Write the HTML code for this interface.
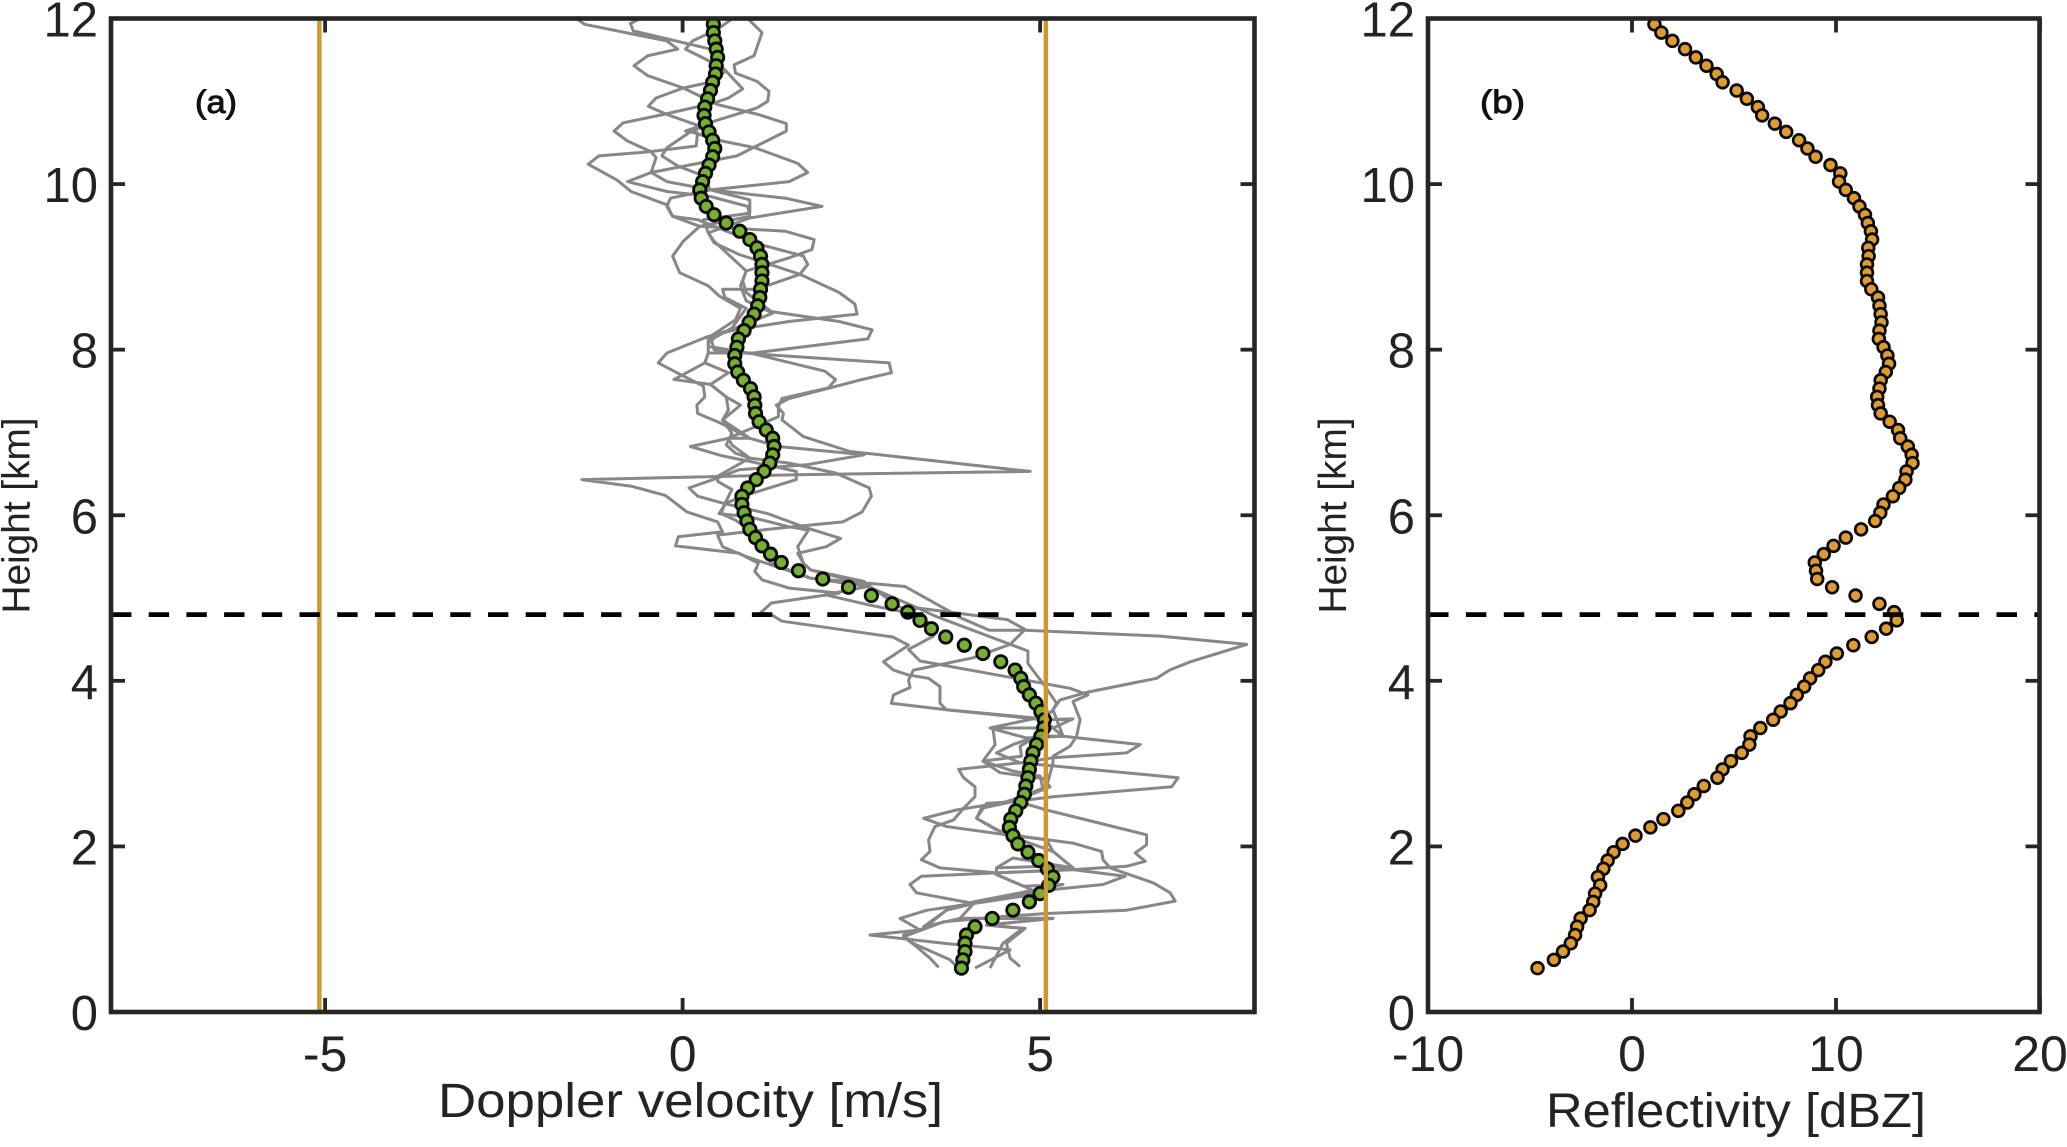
<!DOCTYPE html>
<html lang="en">
<head>
<meta charset="utf-8">
<title>Doppler velocity and reflectivity profiles</title>
<style>
html,body{margin:0;padding:0;background:#fff;width:2067px;height:1147px;overflow:hidden}
svg{display:block}
text{font-family:"Liberation Sans",sans-serif;fill:#232323}
</style>
</head>
<body>
<svg id="figure" xmlns="http://www.w3.org/2000/svg" width="2067" height="1147" viewBox="0 0 2067 1147"></svg>
<script>
const profileHeights = [0.53,0.63,0.73,0.83,0.93,1.03,1.13,1.23,1.33,1.43,1.53,1.63,1.73,1.83,1.93,2.03,2.13,2.23,2.33,2.43,2.53,2.63,2.73,2.83,2.93,3.03,3.13,3.23,3.33,3.43,3.53,3.63,3.73,3.83,3.93,4.03,4.13,4.23,4.33,4.43,4.53,4.63,4.73,4.83,4.93,5.03,5.13,5.23,5.33,5.43,5.53,5.63,5.73,5.83,5.93,6.03,6.13,6.23,6.33,6.43,6.53,6.63,6.73,6.83,6.93,7.03,7.13,7.23,7.33,7.43,7.53,7.63,7.73,7.83,7.93,8.03,8.13,8.23,8.33,8.43,8.53,8.63,8.73,8.83,8.93,9.03,9.13,9.23,9.33,9.43,9.53,9.63,9.73,9.83,9.93,10.03,10.13,10.23,10.33,10.43,10.53,10.63,10.73,10.83,10.93,11.03,11.13,11.23,11.33,11.43,11.53,11.63,11.73,11.83,11.93];
const meanVelocity = [3.90,3.92,3.95,3.95,3.97,4.09,4.33,4.62,4.85,5.00,5.12,5.18,5.10,4.98,4.83,4.69,4.62,4.57,4.59,4.66,4.73,4.78,4.80,4.83,4.85,4.87,4.90,4.95,5.01,5.05,5.06,5.01,4.94,4.85,4.77,4.73,4.65,4.45,4.20,3.94,3.68,3.48,3.32,3.15,2.93,2.64,2.32,1.96,1.62,1.38,1.23,1.11,1.02,0.94,0.90,0.86,0.83,0.83,0.91,1.03,1.14,1.22,1.26,1.28,1.26,1.17,1.07,1.02,1.01,1.00,0.95,0.85,0.77,0.73,0.73,0.76,0.78,0.86,0.93,1.00,1.05,1.08,1.09,1.11,1.11,1.11,1.09,1.04,0.94,0.80,0.61,0.44,0.33,0.26,0.24,0.28,0.32,0.37,0.42,0.45,0.42,0.37,0.32,0.30,0.31,0.35,0.39,0.42,0.46,0.47,0.49,0.47,0.45,0.43,0.43];
const meanReflectivity = [-4.63,-3.83,-3.38,-3.00,-2.79,-2.69,-2.52,-2.08,-1.90,-1.81,-1.56,-1.67,-1.40,-1.19,-0.90,-0.46,0.17,0.90,1.54,2.27,2.71,3.06,3.52,4.19,4.44,4.85,5.38,5.75,5.81,6.29,6.92,7.29,7.77,8.08,8.44,8.73,9.13,9.48,10.04,10.85,11.75,12.46,12.98,12.85,12.13,10.96,9.81,9.08,9.02,8.96,9.40,9.88,10.48,11.23,11.92,12.17,12.33,12.79,13.10,13.40,13.46,13.75,13.71,13.52,13.15,13.04,12.63,12.19,12.06,12.02,12.13,12.19,12.44,12.60,12.52,12.33,12.10,12.13,12.23,12.19,12.13,12.06,11.73,11.52,11.52,11.52,11.60,11.58,11.77,11.71,11.56,11.42,11.15,10.88,10.48,10.15,10.21,9.73,9.00,8.60,8.19,7.56,7.00,6.38,6.17,5.63,5.13,4.44,4.15,3.65,3.13,2.60,1.98,1.44,1.10];

const trace1Velocity = [-1.49,-1.37,-0.22,-0.07,-0.49,-0.68,-0.49,0.01,0.49,1.06,1.45,1.45,0.76,-0.44,-0.77,-0.22,0.39,0.91,0.94,0.24,0.01,-0.14,-0.04,0.36,0.51,0.81,0.74,0.39,0.36,-0.22,-0.34,-0.12,0.29,0.31,0.20,0.21,0.54,0.94,1.34,2.54,1.74,0.79,0.49,0.09,0.21,0.59,1.19,1.69,2.21,2.01,1.61,1.69,1.79,2.54,2.59,1.99,2.59,3.16,3.29,4.54,4.79,4.58,4.07,3.23,3.16,3.18,2.95,2.92,3.69,5.04,5.46,5.18,4.39,4.34,4.37,4.20,4.44,5.04,5.14,4.62,4.25,4.11,4.39,4.76,5.46,5.86,5.88,5.98,6.58,6.82,6.89,6.21,5.09,4.44,3.65,3.09,3.27,3.46,3.58];
const trace1Height = [12.0,11.93,11.73,11.63,11.55,11.43,11.31,11.16,10.96,10.84,10.73,10.64,10.34,10.14,10.03,9.91,9.85,9.73,9.61,9.49,9.31,9.13,8.93,8.77,8.65,8.50,8.36,8.16,8.16,7.96,7.84,7.74,7.56,7.43,7.33,7.23,7.11,6.93,6.83,6.73,6.61,6.55,6.45,6.33,6.23,6.14,6.02,5.86,5.72,5.62,5.54,5.42,5.34,5.20,5.14,5.04,4.92,4.82,4.88,4.74,4.62,4.44,4.28,4.13,4.01,3.92,3.83,3.73,3.65,3.53,3.54,3.43,3.43,3.43,3.23,3.03,2.89,2.82,2.72,2.54,2.52,2.34,2.20,2.12,2.04,1.94,1.84,1.74,1.56,1.44,1.34,1.23,1.19,1.15,1.09,0.91,0.79,0.65,0.54];

const trace2Velocity = [-0.59,-0.73,-0.69,0.39,0.44,0.59,0.84,0.64,0.44,-0.27,-0.83,-0.96,-0.77,-0.44,-0.37,-0.44,-0.22,0.39,1.44,1.95,0.94,0.36,0.44,0.79,1.29,1.64,2.19,2.41,2.44,1.49,0.74,0.36,0.36,0.99,2.89,2.92,2.51,1.49,1.31,1.41,1.39,1.69,2.34,4.86,1.59,-1.41,-0.71,-0.24,0.06,0.49,0.56,-0.06,-0.10,0.79,1.06,1.01,1.11,1.49,2.19,1.24,1.09,1.24,1.39,2.29,2.94,3.16,2.81,2.95,3.16,3.44,3.60,3.60,3.69,4.95,4.30,4.81,5.32,6.40,6.21,5.18,4.72,3.86,3.93,4.09,4.09,3.93,3.79,3.53,3.44,3.46,3.34,3.60,4.39,5.46,6.19,5.88,5.18,4.07,3.42,3.04,3.32,2.62,3.65,4.58,4.09];
const trace2Height = [12.0,11.94,11.85,11.63,11.5,11.38,11.15,11.04,10.98,10.84,10.74,10.64,10.52,10.39,10.32,10.14,10.03,9.93,9.83,9.73,9.59,9.41,9.29,9.15,9.01,8.91,8.69,8.55,8.43,8.34,8.24,8.16,8.04,7.95,7.84,7.72,7.64,7.41,7.33,7.23,7.15,6.95,6.77,6.53,6.49,6.43,6.35,6.24,6.04,5.92,5.80,5.74,5.63,5.54,5.42,5.32,5.22,5.12,5.06,4.94,4.82,4.80,4.72,4.61,4.53,4.43,4.23,4.13,4.07,4.03,3.93,3.73,3.65,3.55,3.43,3.31,3.33,3.23,3.13,3.07,3.01,2.93,2.83,2.72,2.60,2.46,2.32,2.24,2.08,1.94,1.84,1.74,1.68,1.72,1.64,1.54,1.48,1.31,1.23,1.13,0.99,0.93,0.83,0.75,0.53];

const trace3Velocity = [0.70,0.49,0.14,0.04,0.39,0.59,0.44,0.01,-0.37,-0.48,-0.22,0.24,0.04,0.21,0.19,-0.47,-1.17,-1.32,-0.92,-0.72,-0.22,-0.14,0.24,1.44,1.84,1.81,1.49,0.89,0.84,0.89,1.24,2.19,2.65,2.59,0.99,0.36,0.31,-0.12,0.39,0.61,0.64,0.56,0.69,0.61,0.74,0.94,1.49,2.14,2.61,2.64,2.51,2.24,1.54,1.09,0.49,0.56,0.89,1.24,1.79,3.11,3.69,3.89,4.29,4.79,6.68,7.89,7.10,6.81,6.63,5.65,5.28,5.18,5.04,5.32,4.95,4.62,4.39,4.72,5.70,6.93,6.84,5.18,4.62,4.18,4.11,4.53,5.09,5.18,5.46,5.09,4.39,4.39,4.77,5.32,4.07,3.69,3.37,3.88,5.18,4.25,4.79,4.53,4.58,4.72];
const trace3Height = [12.0,11.87,11.73,11.63,11.48,11.36,11.24,11.16,11.04,10.94,10.84,10.70,10.64,10.62,10.46,10.39,10.34,10.24,10.05,9.91,9.75,9.61,9.49,9.43,9.33,9.21,9.11,8.95,8.83,8.69,8.46,8.34,8.24,8.13,7.96,7.96,7.84,7.64,7.58,7.43,7.27,7.15,6.99,6.85,6.75,6.69,6.63,6.51,6.33,6.23,6.04,5.92,5.86,5.82,5.76,5.62,5.50,5.40,5.24,5.14,4.86,4.76,4.61,4.61,4.54,4.44,4.23,4.13,4.03,3.86,3.77,3.65,3.53,3.33,3.33,3.23,3.13,3.01,2.93,2.83,2.72,2.60,2.54,2.46,2.34,2.14,2.08,1.94,1.74,1.76,1.74,1.66,1.52,1.54,1.33,1.23,1.03,1.13,1.13,1.05,1.01,0.83,0.65,0.55];

const trace4Velocity = [0.91,1.11,1.00,0.72,0.74,1.04,1.21,1.19,1.04,0.44,0.09,-0.22,-0.29,-0.07,0.29,0.39,-0.17,-0.22,-0.14,0.21,0.44,1.09,1.69,1.75,1.64,1.04,0.56,0.59,0.89,0.69,0.44,0.36,0.36,0.31,0.64,0.39,0.61,0.81,0.56,0.94,0.64,0.11,0.54,0.94,1.59,1.59,0.99,0.61,0.51,0.94,1.49,1.76,1.61,1.69,1.79,2.59,3.16,3.49,3.51,3.16,3.32,4.53,5.04,5.42,5.67,5.46,5.56,5.51,5.42,5.18,5.18,5.09,4.62,5.09,6.49,6.49,6.33,6.47,6.21,5.46,3.34,3.18,3.27,4.07,3.69,3.37,3.09,3.22,3.74,3.81];
const trace4Height = [12.0,11.83,11.55,11.44,11.34,11.24,11.12,11.0,10.92,10.76,10.62,10.44,10.34,10.22,10.10,9.93,9.83,9.73,9.61,9.57,9.49,9.27,9.13,9.03,8.91,8.73,8.73,8.63,8.50,8.26,8.14,8.08,7.96,7.84,7.72,7.58,7.43,7.33,7.15,6.93,6.93,6.83,6.72,6.65,6.53,6.43,6.27,6.15,6.02,5.98,5.86,5.82,5.62,5.42,5.34,5.16,4.82,4.68,4.54,4.38,4.24,4.05,3.97,3.91,3.83,3.75,3.53,3.33,3.21,3.09,3.01,2.72,2.56,2.44,2.14,2.02,1.92,1.82,1.76,1.72,1.64,1.54,1.44,1.31,1.23,1.01,0.93,0.83,0.63,0.57];

const trace5Velocity = [0.09,0.44,1.01,1.61,1.75,1.49,0.39,0.94,0.94,0.29,0.36,0.44,0.89,0.81,0.89,1.26,0.74,0.39,0.44,0.99,1.99,2.14,2.04,1.39,1.34,1.34,0.64,0.69,0.94,0.49,0.49,0.69,0.59,0.54,0.74,0.94,1.24,1.79,2.59,3.29,3.54,4.83,4.83,4.95,5.04,5.23,5.18,5.32,4.95,4.72,4.74,4.20,4.62,5.00,5.04,4.53,3.83,3.37,3.69,4.53,5.18,5.46,4.62,4.39,4.39,4.77,5.00,4.07,3.88,5.18,4.25,4.76,4.48,4.30];
const trace5Height = [10.64,10.54,10.44,10.25,10.14,10.03,9.93,9.81,9.65,9.57,9.41,9.31,8.95,8.77,8.59,8.44,8.26,8.16,8.0,7.95,7.74,7.64,7.54,7.41,7.31,7.19,6.93,6.85,6.69,6.47,6.41,6.31,6.14,6.02,5.94,5.82,5.42,5.24,5.14,4.88,4.78,4.36,4.21,4.07,3.97,3.73,3.65,3.33,3.33,3.21,3.09,3.03,2.91,2.85,2.69,2.54,2.44,2.34,2.24,2.14,1.94,1.74,1.86,1.74,1.66,1.52,1.43,1.31,1.13,1.13,1.05,1.01,0.83,0.53];

const heightTicks = [0,2,4,6,8,10,12];
const velocityTicks = [-5,0,5];
const reflectivityTicks = [-10,0,10,20];
const meltingLayerHeight = [4.8];
const nyquistVelocity = [-5.08,5.08];

const NS = 'http://www.w3.org/2000/svg';
const svg = document.getElementById('figure');
const AX_BOTTOM = 1012, AX_TOP = 18.5;
const A_LEFT = 111, A_RIGHT = 1254.5, B_LEFT = 1428, B_RIGHT = 2039.5;
function yHeight(h){ return AX_BOTTOM - h * (AX_BOTTOM - AX_TOP) / 12; }
function xVelocity(v){ return 682.6 + v * 71.5; }
function xReflectivity(d){ return 1632 + d * 20.4; }
function make(tag, attrs, parent){
  const el = document.createElementNS(NS, tag);
  for (const k in attrs) el.setAttribute(k, attrs[k]);
  (parent || svg).appendChild(el);
  return el;
}
function group(parent){ return make('g', {}, parent); }

const defs = make('defs', {});
const clip = make('clipPath', {id:'clip-a'}, defs);
make('rect', {x:A_LEFT, y:AX_TOP, width:A_RIGHT-A_LEFT, height:AX_BOTTOM-AX_TOP}, clip);

/* grey individual profiles */
const panelA = group();


const traces = [[trace1Velocity,trace1Height],[trace2Velocity,trace2Height],[trace3Velocity,trace3Height],[trace4Velocity,trace4Height],[trace5Velocity,trace5Height]];
traces.forEach(function(t){
  const pts = t[0].map(function(v,i){ return xVelocity(v).toFixed(1)+','+yHeight(t[1][i]).toFixed(1); }).join(' ');
  const line = make('polyline', {points:pts, fill:'none', stroke:'#878787', 'stroke-width':3, 'stroke-linejoin':'round', 'clip-path':'url(#clip-a)'}, panelA);
  
  
});

/* mean velocity markers: drawn top to bottom so lower markers overlap */
for (let i = meanVelocity.length - 1; i >= 0; i--) {
  const c = make('circle', {cx:xVelocity(meanVelocity[i]), cy:yHeight(profileHeights[i]), r:6.2, fill:'#76b033', stroke:'#0a0a0a', 'stroke-width':2.8}, panelA);
  
  
}

/* nyquist lines */
nyquistVelocity.forEach(function(v){
  const l = make('line', {x1:xVelocity(v), x2:xVelocity(v), y1:AX_TOP, y2:AX_BOTTOM, stroke:'#d3952e', 'stroke-width':4.4}, panelA);
  
  
});

/* melting layer dashes */
const dashA = make('line', {x1:A_LEFT, x2:A_RIGHT, y1:yHeight(meltingLayerHeight[0]), y2:yHeight(meltingLayerHeight[0]), stroke:'#000', 'stroke-width':4.8, 'stroke-dasharray':'20.4 17.3'}, panelA);



/* reflectivity panel */
const panelB = group();


for (let i = meanReflectivity.length - 1; i >= 0; i--) {
  const c = make('circle', {cx:xReflectivity(meanReflectivity[i]), cy:yHeight(profileHeights[i]), r:5.9, fill:'#dd9b31', stroke:'#0a0a0a', 'stroke-width':2.7}, panelB);
  
  
}
const dashB = make('line', {x1:B_LEFT, x2:B_RIGHT, y1:yHeight(meltingLayerHeight[0]), y2:yHeight(meltingLayerHeight[0]), stroke:'#000', 'stroke-width':4.8, 'stroke-dasharray':'20.5 17.4'}, panelB);



/* axes */
function drawAxes(parent, left, right, xTicks, xScale, prefix){
  const frame = make('rect', {x:left, y:AX_TOP, width:right-left, height:AX_BOTTOM-AX_TOP, fill:'none', stroke:'#262626', 'stroke-width':4.6}, parent);
  
  
  heightTicks.forEach(function(h){
    const y = yHeight(h);
    const t1 = make('line', {x1:left, x2:left+14, y1:y, y2:y, stroke:'#262626', 'stroke-width':3.8}, parent);
    
    
    const t2 = make('line', {x1:right-14, x2:right, y1:y, y2:y, stroke:'#262626', 'stroke-width':3.8}, parent);
    
    
    const lab = make('text', {x:left-13, y:y+18, 'font-size':49, 'text-anchor':'end'}, parent);
    lab.textContent = String(h);
    
    
  });
  xTicks.forEach(function(v){
    const x = xScale(v);
    const t1 = make('line', {x1:x, x2:x, y1:AX_BOTTOM, y2:AX_BOTTOM-14, stroke:'#262626', 'stroke-width':3.8}, parent);
    
    
    const t2 = make('line', {x1:x, x2:x, y1:AX_TOP, y2:AX_TOP+14, stroke:'#262626', 'stroke-width':3.8}, parent);
    
    
    const lab = make('text', {x:x, y:1071, 'font-size':50, 'text-anchor':'middle'}, parent);
    lab.textContent = String(v);
    
    
  });
}
drawAxes(panelA, A_LEFT, A_RIGHT, velocityTicks, xVelocity, 'velocity');
drawAxes(panelB, B_LEFT, B_RIGHT, reflectivityTicks, xReflectivity, 'reflectivity');

/* titles */
const xTitleA = make('text', {x:438, y:1117, 'font-size':48, textLength:505, lengthAdjust:'spacingAndGlyphs'}, panelA);
xTitleA.textContent = 'Doppler velocity [m/s]';


const xTitleB = make('text', {x:1546, y:1127, 'font-size':48, textLength:380, lengthAdjust:'spacingAndGlyphs'}, panelB);
xTitleB.textContent = 'Reflectivity [dBZ]';


const yTitleA = make('text', {x:0, y:0, 'font-size':39, textLength:196, lengthAdjust:'spacingAndGlyphs', transform:'translate(29.5 613.5) rotate(-90)'}, panelA);
yTitleA.textContent = 'Height [km]';


const yTitleB = make('text', {x:0, y:0, 'font-size':39, textLength:196, lengthAdjust:'spacingAndGlyphs', transform:'translate(1346 613.5) rotate(-90)'}, panelB);
yTitleB.textContent = 'Height [km]';


const tagA = make('text', {x:195, y:113, 'font-size':32, textLength:42, lengthAdjust:'spacingAndGlyphs', style:'fill:#111;stroke:#111;stroke-width:0.9'}, panelA);
tagA.textContent = '(a)';


const tagB = make('text', {x:1480, y:113, 'font-size':32, textLength:45, lengthAdjust:'spacingAndGlyphs', style:'fill:#111;stroke:#111;stroke-width:0.9'}, panelB);
tagB.textContent = '(b)';


</script>
</body>
</html>
